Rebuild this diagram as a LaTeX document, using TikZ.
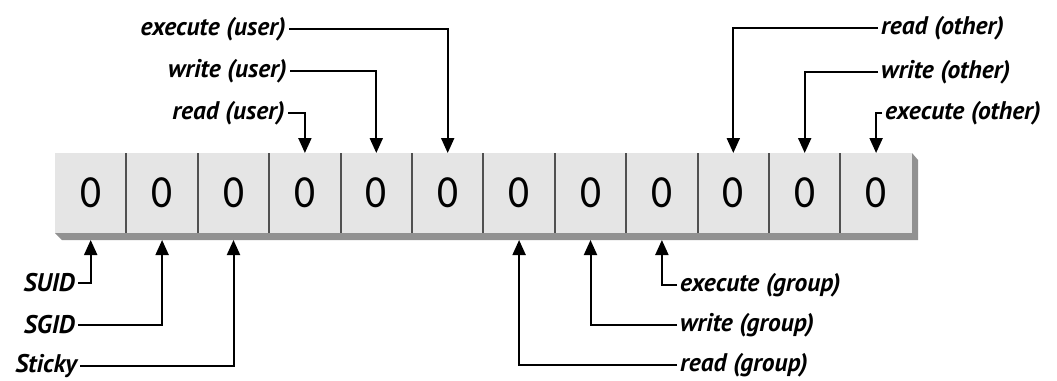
\documentclass[tikz,border=0pt]{standalone}
\usepackage{fontspec}
\setmainfont{PT Sans}
\newfontfamily\labfont{PT Sans}
\newfontfamily\digfont[FakeStretch=0.9]{Carlito}
\usetikzlibrary{arrows.meta}
\definecolor{cellgray}{RGB}{229,229,229}
\definecolor{shadowgray}{RGB}{145,145,145}
\definecolor{divgray}{RGB}{80,80,80}
\begin{document}
\begin{tikzpicture}[x=1pt,y=-1pt,
 cell/.style={minimum width=71.4pt,minimum height=80pt,inner sep=0pt,outer sep=0pt,fill=cellgray,font=\digfont\fontsize{46}{46}\selectfont},
 lab/.style={font=\labfont\bfseries\itshape\fontsize{25.5}{25.5}\selectfont,inner sep=3pt},
 divider/.style={draw=divgray,line width=2pt},
 arr/.style={line width=2pt,-{Triangle[width=13pt,length=15pt]}}]
\useasboundingbox (0,0) rectangle (1057,380);
\fill[shadowgray] (912,153) -- (918,160) -- (918,240) -- (62,240) -- (55,233) -- (912,233) -- cycle;
\foreach \i in {1,...,12} \node[cell] (c\i) at ({55+71.4*(\i-0.5)},193) {0};
\foreach \i in {1,...,11} \draw[divider] (c\i.north east) -- (c\i.south east);
% user
\node[lab,anchor=east] (xu) at (289,29) {execute (user)};
\node[lab,anchor=east] (wu) at (290,71) {write (user)};
\node[lab,anchor=east] (ru) at (288,113) {read (user)};
\draw[arr] (xu.east) -| (c6.north);
\draw[arr] (wu.east) -| (c5.north);
\draw[arr] (ru.east) -| (c4.north);
% other
\node[lab,anchor=west] (ro) at (878,28) {read (other)};
\node[lab,anchor=west] (wo) at (878,72) {write (other)};
\node[lab,anchor=west] (xo) at (882,113) {execute (other)};
\draw[arr] (ro.west) -| (c10.north);
\draw[arr] (wo.west) -| (c11.north);
\draw[arr] (xo.west) -| (c12.north);
% special
\node[lab,anchor=east] (suid) at (78,283) {SUID};
\node[lab,anchor=east] (sgid) at (78,325) {SGID};
\node[lab,anchor=east] (sticky) at (80,366) {Sticky};
\draw[arr] (suid.east) -| ([yshift=-7pt]c1.south);
\draw[arr] (sgid.east) -| ([yshift=-7pt]c2.south);
\draw[arr] (sticky.east) -| ([yshift=-7pt]c3.south);
% group
\node[lab,anchor=west] (xg) at (677,285) {execute (group)};
\node[lab,anchor=west] (wg) at (677,325) {write (group)};
\node[lab,anchor=west] (rg) at (677,365) {read (group)};
\draw[arr] (xg.west) -| ([yshift=-7pt]c9.south);
\draw[arr] (wg.west) -| ([yshift=-7pt]c8.south);
\draw[arr] (rg.west) -| ([yshift=-7pt]c7.south);
\end{tikzpicture}
\end{document}
